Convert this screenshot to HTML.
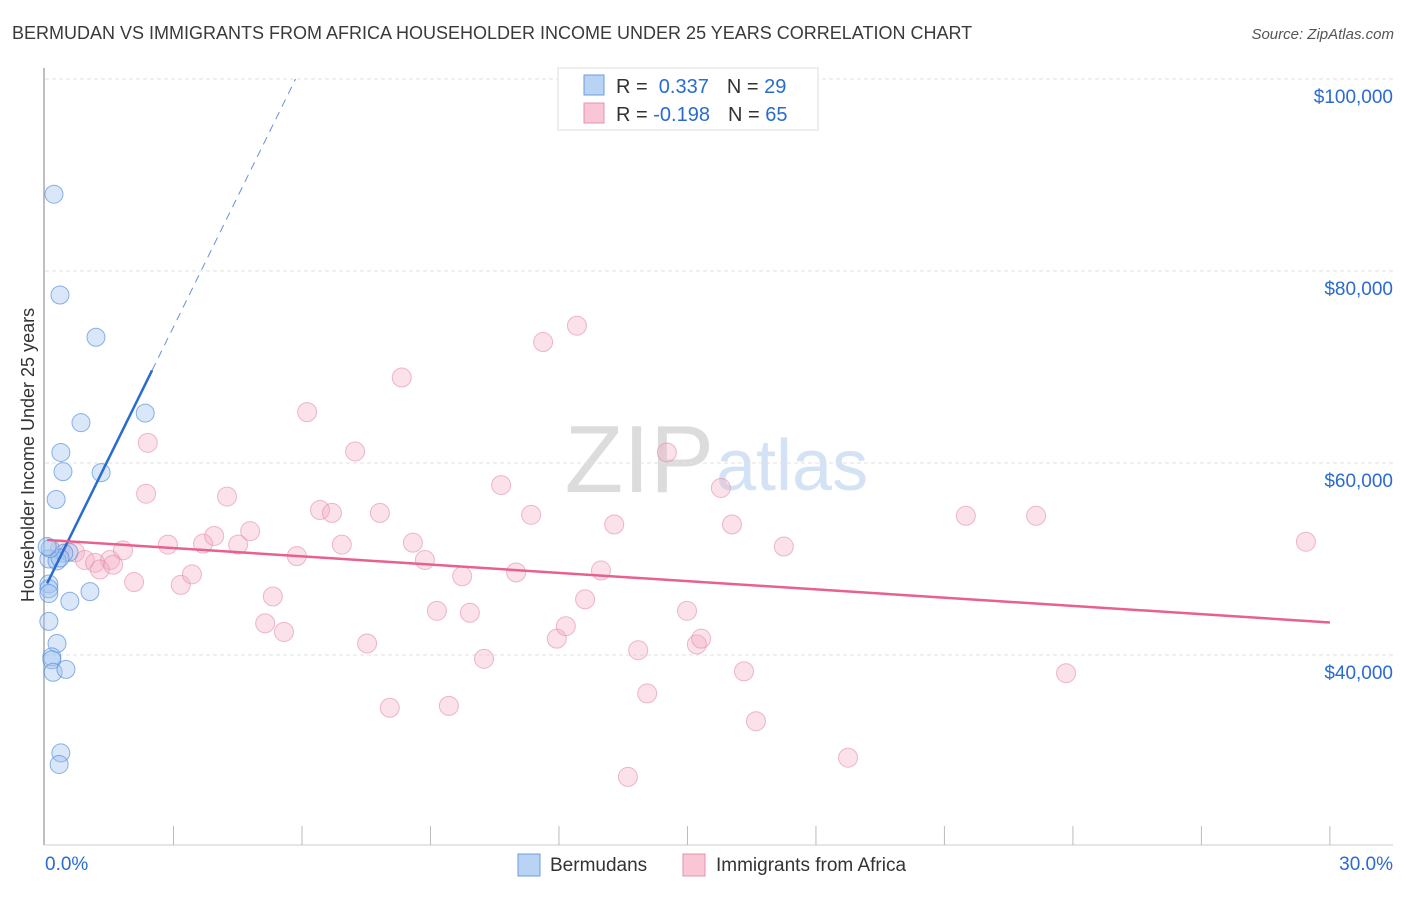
<!DOCTYPE html>
<html><head><meta charset="utf-8"><style>
body{margin:0;background:#fff;font-family:"Liberation Sans",sans-serif;}
svg text{font-family:"Liberation Sans",sans-serif;}
</style></head><body>
<svg id="c" width="1406" height="892">
<text x="12" y="39" font-size="18" fill="#3a3a3a">BERMUDAN VS IMMIGRANTS FROM AFRICA HOUSEHOLDER INCOME UNDER 25 YEARS CORRELATION CHART</text>
<text x="1394" y="39" font-size="15" fill="#555" font-style="italic" text-anchor="end">Source: ZipAtlas.com</text>
<text transform="translate(34,455) rotate(-90)" font-size="18" fill="#333" text-anchor="middle">Householder Income Under 25 years</text>
<text x="714" y="492" font-size="96" fill="#dcdcdc" text-anchor="end" font-family="Liberation Serif">ZIP</text>
<text x="716" y="490" font-size="72" fill="#d3e3f5">atlas</text>
<g id="grid"></g><g id="pts"></g><g id="lines"></g>
<g>
<rect x="558" y="68" width="260" height="62" fill="#fff" stroke="#ddd"/>
<rect x="584" y="75" width="20" height="20" fill="#b9d3f5" stroke="#6a9ee0"/>
<rect x="584" y="103" width="20" height="20" fill="#f9c6d6" stroke="#e890ad"/>
<text x="616" y="93" font-size="20" fill="#333">R = <tspan fill="#2a6bd0">&#160;0.337</tspan><tspan dx="18" fill="#333">N = </tspan><tspan fill="#2a6bd0">29</tspan></text>
<text x="616" y="121" font-size="20" fill="#333">R = <tspan fill="#2a6bd0">-0.198</tspan><tspan dx="18" fill="#333">N = </tspan><tspan fill="#2a6bd0">65</tspan></text>
</g>
<g>
<rect x="518" y="854" width="22" height="22" fill="#b9d3f5" stroke="#6a9ee0"/>
<text x="550" y="871" font-size="19" fill="#333">Bermudans</text>
<rect x="683" y="854" width="22" height="22" fill="#f9c6d6" stroke="#e890ad"/>
<text x="716" y="871" font-size="19" fill="#333">Immigrants from Africa</text>
</g>
</svg>
<script>
const yTicks=[40,60,80,100];
const yTickLabels=["$40,000","$60,000","$80,000","$100,000"];
const xEnds=[0,30];
const xEndLabels=["0.0%","30.0%"];
const blueX=[0.21,0.35,1.19,2.34,0.84,0.37,0.42,1.31,0.26,0.56,0.44,0.09,0.28,0.35,0.09,0.09,0.09,1.05,0.58,0.09,0.28,0.16,0.16,0.19,0.49,0.37,0.33,0.12,0.05];
const blueY=[88.0,77.5,73.1,65.2,64.2,61.1,59.1,59.0,56.2,50.7,50.6,50.0,49.8,50.1,47.4,46.9,46.4,46.6,45.6,43.5,41.2,39.8,39.5,38.2,38.5,29.8,28.6,51.1,51.3];
const pinkX=[0.35,0.7,0.93,1.17,1.52,1.82,1.28,2.08,1.59,2.4,2.36,2.87,3.17,3.43,3.69,3.95,4.25,4.51,4.79,5.14,5.32,5.58,5.88,6.12,6.42,6.7,6.93,7.24,7.52,7.82,8.05,8.33,8.59,8.87,9.15,9.43,9.74,9.92,10.25,10.65,11.0,11.35,11.63,11.95,12.16,12.42,12.61,12.98,13.29,13.61,13.85,14.06,14.52,14.99,15.22,15.32,15.78,16.04,16.32,16.6,17.25,18.75,21.5,23.14,23.84,29.44];
const pinkY=[51.0,50.7,49.9,49.6,49.9,50.9,48.9,47.6,49.4,62.1,56.8,51.5,47.3,48.4,51.6,52.4,56.5,51.5,52.9,43.3,46.1,42.4,50.3,65.3,55.1,54.8,51.5,61.2,41.2,54.8,34.5,68.9,51.7,49.9,44.6,34.7,48.2,44.4,39.6,57.7,48.6,54.6,72.6,41.7,43.0,74.3,45.8,48.8,53.6,27.3,40.5,36.0,61.1,44.6,41.1,41.7,57.4,53.6,38.3,33.1,51.3,29.3,54.5,54.5,38.1,51.8];
const blueFit=[47.0,9.06];
const pinkFit=[52.0,-0.287];
const X=v=>45+v*42.83, Y=k=>79+(100-k)*9.6;
const NS="http://www.w3.org/2000/svg";
function mk(t,a,p){const e=document.createElementNS(NS,t);for(const k in a)e.setAttribute(k,a[k]);p.appendChild(e);return e;}
const g=document.getElementById('grid');
yTicks.forEach((k,i)=>{
 const l=mk('line',{x1:45,x2:1393,y1:Y(k),y2:Y(k),stroke:'#e2e2e2','stroke-dasharray':'4,3'},g);
 
 
 const t=mk('text',{x:1393,y:Y(k)+24,'font-size':19,fill:'#2a6bd0','text-anchor':'end'},g);
 t.textContent=yTickLabels[i];
 
 
});
mk('line',{x1:44,x2:44,y1:68,y2:845,stroke:'#aaa','stroke-width':1.5},g);
mk('line',{x1:44,x2:1393,y1:845,y2:845,stroke:'#ccc'},g);
for(let i=1;i<=10;i++){const x=X(i*3);mk('line',{x1:x,x2:x,y1:826,y2:845,stroke:'#bbb'},g);}
xEnds.forEach((v,i)=>{
 const t=mk('text',{x:i?1393:45,y:870,'font-size':19,fill:'#2a6bd0','text-anchor':i?'end':'start'},g);
 t.textContent=xEndLabels[i];
 
 
});
const p=document.getElementById('pts');
pinkX.forEach((v,i)=>{
 const c=mk('circle',{cx:X(v),cy:Y(pinkY[i]),r:9.5,fill:'rgba(244,170,196,0.35)',stroke:'rgba(228,140,172,0.6)'},p);
 
 
});
blueX.forEach((v,i)=>{
 const c=mk('circle',{cx:X(v),cy:Y(blueY[i]),r:9,fill:'rgba(160,196,240,0.4)',stroke:'rgba(80,138,218,0.65)'},p);
 
 
});
const L=document.getElementById('lines');
const bl=mk('line',{x1:X(0.05),y1:Y(blueFit[0]+blueFit[1]*0.05),x2:X(2.5),y2:Y(blueFit[0]+blueFit[1]*2.5),stroke:'#2a6bd0','stroke-width':2.5},L);


const xe=(100-blueFit[0])/blueFit[1];
const bd=mk('line',{x1:X(2.5),y1:Y(blueFit[0]+blueFit[1]*2.5),x2:X(xe),y2:Y(100),stroke:'#6a8fd8','stroke-width':1,'stroke-dasharray':'8,6'},L);


const pl=mk('line',{x1:X(0.05),y1:Y(pinkFit[0]+pinkFit[1]*0.05),x2:X(30),y2:Y(pinkFit[0]+pinkFit[1]*30),stroke:'#e8608c','stroke-width':2.5},L);


</script>
</body></html>
